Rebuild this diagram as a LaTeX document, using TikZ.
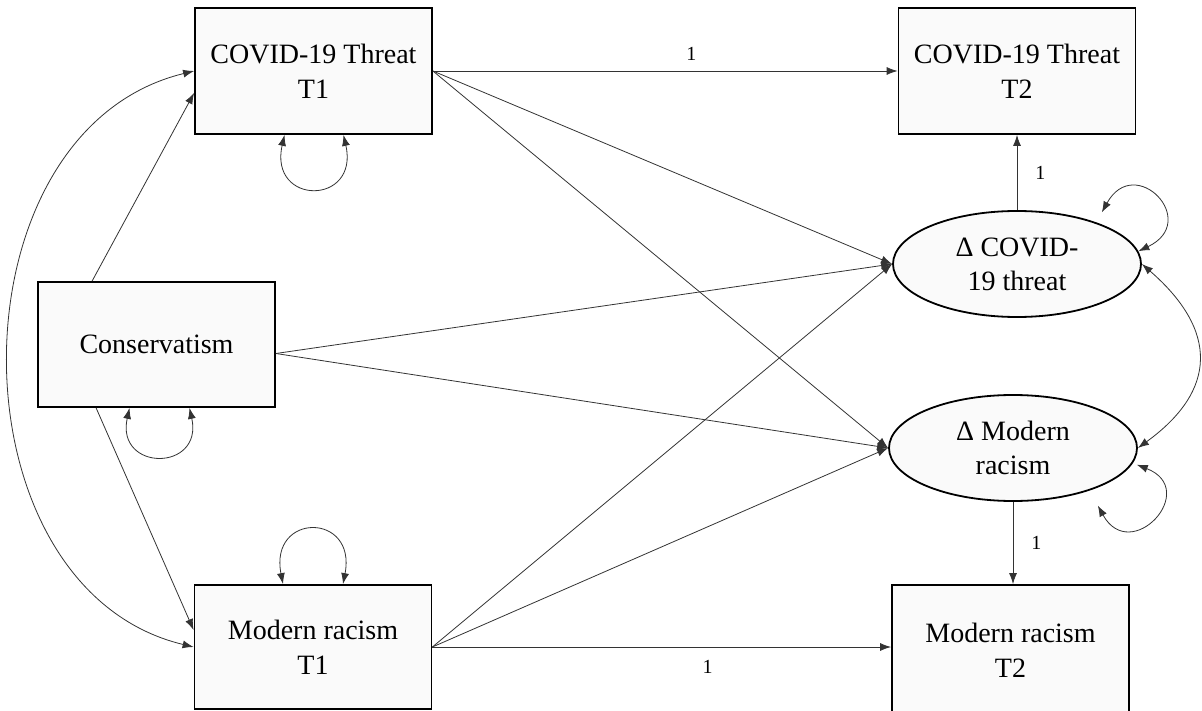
\documentclass[tikz,border=0pt]{standalone}
\usepackage{fontspec}
\setmainfont{Liberation Serif}
\usetikzlibrary{shapes.geometric, arrows.meta, positioning, calc}

\begin{document}
\begin{tikzpicture}[x=1pt, y=-1pt,
    >={Latex[length=11pt,width=8pt]},
    box/.style={draw, line width=1.8pt, fill=black!2, minimum width=237pt,
        minimum height=125pt, inner sep=0pt, align=center,
        font=\fontsize{28}{35}\selectfont},
    latent/.style={ellipse, draw, line width=1.8pt, fill=black!2, minimum width=248pt,
        minimum height=106pt, inner sep=0pt, align=center,
        font=\fontsize{28}{34}\selectfont},
    effect/.style={->, line width=0.8pt, black!80},
    covar/.style={<->, line width=0.8pt, black!80},
    lbl/.style={font=\fontsize{20}{22}\selectfont, inner sep=2pt, text=black}]
\useasboundingbox (0,0) rectangle (1202,711);

% Observed measures
\node[box, minimum height=126pt] (t1) at (313.5,71) {COVID-19 Threat\\T1};
\node[box, minimum height=126pt] (t2) at (1017,71) {COVID-19 Threat\\T2};
\node[box] (cons) at (156.5,344.5) {Conservatism};
\node[box, minimum height=124pt] (mr1) at (313,647) {Modern racism\\T1};
\node[box, minimum height=130pt] (mr2) at (1010.5,650) {Modern racism\\T2};

% Latent change scores
\node[latent] (e1) at (1017,264) {Δ COVID-\\19 threat};
\node[latent] (e2) at (1013,448) {Δ Modern\\racism};

% Fixed paths
\draw[effect] (t1.east) -- node[lbl, pos=0.556, above=8pt] (l1) {1} (t2.west);
\draw[effect] (e1.north) -- node[lbl, right=16pt] (l2) {1} (e1.north |- t2.south);
\draw[effect] (e2.south) -- node[lbl, right=16pt] (l3) {1} (e2.south |- mr2.north);
\draw[effect] (mr1.east) -- node[lbl, pos=0.6, below=11pt] (l4) {1} ([yshift=3pt]mr2.west);

% Conservatism predicting
\draw[effect] ([xshift=55pt]cons.north west) -- ([yshift=-22pt]t1.west);
\draw[effect] ([xshift=59pt]cons.south west) -- ([yshift=17pt]mr1.west);
\draw[effect] ([yshift=-9pt]cons.east) -- (e1.west);
\draw[effect] ([yshift=-9pt]cons.east) -- (e2.west);

% Cross-lagged and autoregressive paths
\draw[effect] (t1.east) -- (e1.west);
\draw[effect] (t1.east) -- (e2.west);
\draw[effect] (mr1.east) -- (e1.west);
\draw[effect] (mr1.east) -- (e2.west);

% Covariances
\draw[covar] (t1.west) .. controls +(-247,60) and +(-246,-59) .. (mr1.west);
\draw[covar] (e1.east) .. controls +(76,66) and +(80,-58) .. (e2.east);

% Variances
\draw[covar] ([xshift=-29pt]t1.south) .. controls +(-16,71) and +(16,71) .. ([xshift=30pt]t1.south);
\draw[covar] ([xshift=-27pt]cons.south) .. controls +(-14,64) and +(14,64) .. ([xshift=33pt]cons.south);
\draw[covar] ([xshift=-30pt]mr1.north) .. controls +(-14,-72) and +(14,-72) .. ([xshift=30pt]mr1.north);
\draw[covar] ([yshift=12pt]e1.25) .. controls +(33,-60) and +(63,-30) .. (e1.6);
\draw[covar] ([xshift=5pt]e2.-8) .. controls +(64,25) and +(33,60) .. ([yshift=-18pt]e2.-25);
\end{tikzpicture}
\end{document}
